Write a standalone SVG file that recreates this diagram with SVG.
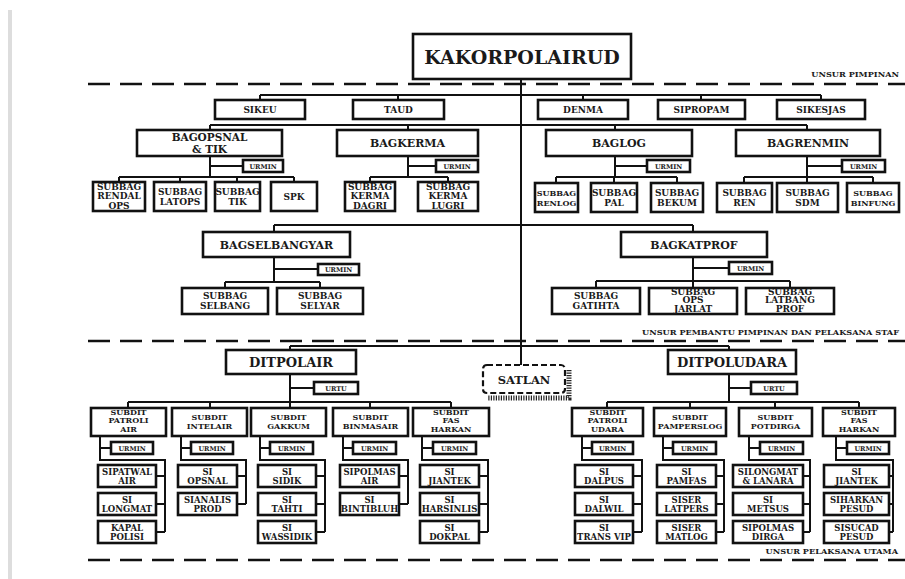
<svg xmlns="http://www.w3.org/2000/svg" width="905" height="579" viewBox="0 0 905 579">
<style>
.bx{fill:#fff;stroke:#111;stroke-width:2.6}
.ln{fill:none;stroke:#111;stroke-width:2}
.dl{fill:none;stroke:#111;stroke-width:2.6;stroke-dasharray:22 10}
text{font-family:"DejaVu Serif","Liberation Serif",serif;font-weight:bold;fill:#1a1a1a;text-anchor:middle}
.t0{font-size:19px}
.t1{font-size:9px}
.t2{font-size:11px}
.t2s{font-size:10.5px}
.t3{font-size:9px}
.t3s{font-size:8px}
.tu{font-size:6.5px}
.t4{font-size:13px}
.t5{font-size:8px}
.t6{font-size:8.5px}
.tl{font-size:8.2px;text-anchor:end}
</style>
<rect x="0" y="0" width="905" height="579" fill="#fff"/>
<rect x="8" y="10" width="4" height="569" fill="#ddd"/>

<g id="separators">
<path class="dl" d="M88 84H905"/>
<path class="dl" d="M88 341H905"/>
<path class="dl" d="M88 560H905"/>
<text class="tl" x="899" y="77">UNSUR PIMPINAN</text>
<text class="tl" x="899" y="335">UNSUR PEMBANTU PIMPINAN DAN PELAKSANA STAF</text>
<text class="tl" x="898" y="554">UNSUR PELAKSANA UTAMA</text>
</g>

<g id="connectors">
<path class="ln" d="M521 79V365"/>
<path class="ln" d="M260 95H821M260 95V100M398 95V100M583 95V100M701 95V100M821 95V100"/>
<path class="ln" d="M210 125H807M210 125V130M408 125V130M615 125V130M807 125V130"/>
<path class="ln" d="M210 156V177M210 166H243M119 177H294M119 177V182M180 177V182M237 177V182M294 177V182"/>
<path class="ln" d="M408 156V177M408 166H436M370 177H448M370 177V182M448 177V182"/>
<path class="ln" d="M615 156V177M615 166H647M556 177H677M556 177V182M614 177V182M677 177V182"/>
<path class="ln" d="M807 156V177M807 166H842M744 177H873M744 177V182M807 177V182M873 177V182"/>
<path class="ln" d="M274 225H693M274 225V232M693 225V232"/>
<path class="ln" d="M274 257V282M274 269H318M225 282H320M225 282V288M320 282V288"/>
<path class="ln" d="M693 257V281M693 268H729M596 281H790M596 281V288M693 281V288M790 281V288"/>
<path class="ln" d="M290 346H729M290 346V350M729 346V350"/>
<path class="ln" d="M290 374V402M290 388H314M128 402H451M128 402V408M210 402V408M290 402V408M370 402V408M451 402V408"/>
<path class="ln" d="M729 374V402M729 388H751M607 402H859M607 402V408M690 402V408M775 402V408M859 402V408"/>
<path class="ln" d="M100 436V460H165V532M100 448H111M156 476H165M156 504H165M156 532H165"/>
<path class="ln" d="M181 436V460H246V504M181 448H191M237 476H246M237 504H246"/>
<path class="ln" d="M260 436V460H325V532M260 448H270M316 476H325M316 504H325M316 532H325"/>
<path class="ln" d="M343 436V460H408V504M343 448H353M399 476H408M399 504H408"/>
<path class="ln" d="M422 436V460H488V532M422 448H433M479 476H488M479 504H488M479 532H488"/>
<path class="ln" d="M582 436V460H642V532M582 448H592M633 476H642M633 504H642M633 532H642"/>
<path class="ln" d="M663 436V460H724V532M663 448H673M716 476H724M716 504H724M716 532H724"/>
<path class="ln" d="M749 436V460H810V532M749 448H760M803 476H810M803 504H810M803 532H810"/>
<path class="ln" d="M836 436V460H893V532M836 448H847M889 476H893M889 504H893M889 532H893"/>
</g>

<g id="kakorpolairud"><rect class="bx" x="413" y="34" width="218" height="45" stroke-width="3"/><text class="t0" x="522" y="64">KAKORPOLAIRUD</text></g>

<g id="sikeu"><rect class="bx" x="215" y="100" width="90" height="19"/><text class="t1" x="260" y="113">SIKEU</text></g>
<g id="taud"><rect class="bx" x="353" y="100" width="91" height="19"/><text class="t1" x="398.5" y="113">TAUD</text></g>
<g id="denma"><rect class="bx" x="538" y="100" width="90" height="19"/><text class="t1" x="583" y="113">DENMA</text></g>
<g id="sipropam"><rect class="bx" x="658" y="100" width="87" height="19"/><text class="t1" x="701.5" y="113">SIPROPAM</text></g>
<g id="sikesjas"><rect class="bx" x="777" y="100" width="88" height="19"/><text class="t1" x="821" y="113">SIKESJAS</text></g>

<g id="bagopsnal"><rect class="bx" x="137" y="130" width="145" height="26"/><text class="t2s" x="209.5" y="140.5">BAGOPSNAL</text><text class="t2s" x="209.5" y="152.5">&amp; TIK</text></g>
<g id="bagkerma"><rect class="bx" x="337" y="130" width="141" height="26"/><text class="t2" x="407.5" y="147">BAGKERMA</text></g>
<g id="baglog"><rect class="bx" x="546" y="130" width="146" height="26"/><text class="t2" x="619" y="147">BAGLOG</text></g>
<g id="bagrenmin"><rect class="bx" x="736" y="130" width="144" height="26"/><text class="t2" x="808" y="147">BAGRENMIN</text></g>

<g id="urmin-bagopsnal"><rect class="bx" x="243" y="160" width="40" height="12"/><text class="tu" x="263" y="168.5">URMIN</text></g>
<g id="urmin-bagkerma"><rect class="bx" x="436" y="160" width="42" height="12"/><text class="tu" x="457" y="168.5">URMIN</text></g>
<g id="urmin-baglog"><rect class="bx" x="647" y="160" width="43" height="12"/><text class="tu" x="668.5" y="168.5">URMIN</text></g>
<g id="urmin-bagrenmin"><rect class="bx" x="842" y="160" width="43" height="12"/><text class="tu" x="863.5" y="168.5">URMIN</text></g>

<g id="subbag-rendal-ops"><rect class="bx" x="93" y="182" width="52" height="29"/><text class="t3" x="119" y="189.5">SUBBAG</text><text class="t3" x="119" y="199">RENDAL</text><text class="t3" x="119" y="208.5">OPS</text></g>
<g id="subbag-latops"><rect class="bx" x="154" y="182" width="52" height="29"/><text class="t3" x="180" y="194.5">SUBBAG</text><text class="t3" x="180" y="204.5">LATOPS</text></g>
<g id="subbag-tik"><rect class="bx" x="215" y="182" width="45" height="29"/><text class="t3" x="237.5" y="194.5">SUBBAG</text><text class="t3" x="237.5" y="204.5">TIK</text></g>
<g id="spk"><rect class="bx" x="271" y="182" width="46" height="29"/><text class="t3" x="294" y="200">SPK</text></g>
<g id="subbag-kerma-dagri"><rect class="bx" x="345" y="182" width="50" height="29"/><text class="t3" x="370" y="189.5">SUBBAG</text><text class="t3" x="370" y="199">KERMA</text><text class="t3" x="370" y="208.5">DAGRI</text></g>
<g id="subbag-kerma-lugri"><rect class="bx" x="418" y="182" width="60" height="29"/><text class="t3" x="448" y="189.5">SUBBAG</text><text class="t3" x="448" y="199">KERMA</text><text class="t3" x="448" y="208.5">LUGRI</text></g>
<g id="subbag-renlog"><rect class="bx" x="535" y="183" width="43" height="29"/><text class="t3s" x="556.5" y="195.5">SUBBAG</text><text class="t3s" x="556.5" y="205.5">RENLOG</text></g>
<g id="subbag-pal"><rect class="bx" x="591" y="183" width="46" height="29"/><text class="t3" x="614" y="195.5">SUBBAG</text><text class="t3" x="614" y="205.5">PAL</text></g>
<g id="subbag-bekum"><rect class="bx" x="651" y="183" width="52" height="29"/><text class="t3" x="677" y="195.5">SUBBAG</text><text class="t3" x="677" y="205.5">BEKUM</text></g>
<g id="subbag-ren"><rect class="bx" x="717" y="183" width="55" height="29"/><text class="t3" x="744.5" y="195.5">SUBBAG</text><text class="t3" x="744.5" y="205.5">REN</text></g>
<g id="subbag-sdm"><rect class="bx" x="777" y="183" width="61" height="29"/><text class="t3" x="807.5" y="195.5">SUBBAG</text><text class="t3" x="807.5" y="205.5">SDM</text></g>
<g id="subbag-binfung"><rect class="bx" x="847" y="183" width="52" height="29"/><text class="t3s" x="873" y="195.5">SUBBAG</text><text class="t3s" x="873" y="205.5">BINFUNG</text></g>

<g id="bagselbangyar"><rect class="bx" x="203" y="232" width="147" height="25"/><text class="t2" x="276.5" y="248.5">BAGSELBANGYAR</text></g>
<g id="bagkatprof"><rect class="bx" x="621" y="232" width="146" height="25"/><text class="t2" x="694" y="248.5">BAGKATPROF</text></g>
<g id="urmin-bagselbangyar"><rect class="bx" x="318" y="264" width="41" height="11"/><text class="tu" x="338.5" y="272">URMIN</text></g>
<g id="urmin-bagkatprof"><rect class="bx" x="729" y="262" width="43" height="12"/><text class="tu" x="750.5" y="270.5">URMIN</text></g>
<g id="subbag-selbang"><rect class="bx" x="182" y="288" width="86" height="26"/><text class="t3" x="225" y="298.5">SUBBAG</text><text class="t3" x="225" y="308.5">SELBANG</text></g>
<g id="subbag-selyar"><rect class="bx" x="277" y="288" width="86" height="26"/><text class="t3" x="320" y="298.5">SUBBAG</text><text class="t3" x="320" y="308.5">SELYAR</text></g>
<g id="subbag-gatihta"><rect class="bx" x="552" y="288" width="88" height="26"/><text class="t3" x="596" y="298.5">SUBBAG</text><text class="t3" x="596" y="308.5">GATIHTA</text></g>
<g id="subbag-ops-jarlat"><rect class="bx" x="649" y="288" width="88" height="26"/><text class="t3" x="693" y="294.5">SUBBAG</text><text class="t3" x="693" y="303">OPS</text><text class="t3" x="693" y="311.5">JARLAT</text></g>
<g id="subbag-latbang-prof"><rect class="bx" x="746" y="288" width="88" height="26"/><text class="t3" x="790" y="294.5">SUBBAG</text><text class="t3" x="790" y="303">LATBANG</text><text class="t3" x="790" y="311.5">PROF</text></g>

<g id="ditpolair"><rect class="bx" x="226" y="350" width="130" height="24"/><text class="t4" x="291" y="367">DITPOLAIR</text></g>
<g id="ditpoludara"><rect class="bx" x="668" y="350" width="128" height="24"/><text class="t4" x="732" y="367">DITPOLUDARA</text></g>
<g id="satlan">
<path d="M569 370V398H488" fill="none" stroke="#222" stroke-width="5" stroke-dasharray="1.2 1.3"/>
<rect x="483" y="365" width="82" height="28" rx="4" fill="#fff" stroke="#111" stroke-width="2.2" stroke-dasharray="6 3"/>
<text class="t2" x="524" y="383.5" style="font-size:11.5px">SATLAN</text></g>
<g id="urtu-ditpolair"><rect class="bx" x="314" y="382" width="44" height="12"/><text class="tu" x="336" y="390.5">URTU</text></g>
<g id="urtu-ditpoludara"><rect class="bx" x="751" y="382" width="46" height="12"/><text class="tu" x="774" y="390.5">URTU</text></g>

<g id="subdit-patroli-air"><rect class="bx" x="91" y="408" width="75" height="28"/><text class="t5" x="128.5" y="414.5">SUBDIT</text><text class="t5" x="128.5" y="423">PATROLI</text><text class="t5" x="128.5" y="431.5">AIR</text></g>
<g id="subdit-intelair"><rect class="bx" x="172" y="408" width="75" height="28"/><text class="t5" x="209.5" y="420">SUBDIT</text><text class="t5" x="209.5" y="429">INTELAIR</text></g>
<g id="subdit-gakkum"><rect class="bx" x="251" y="408" width="75" height="28"/><text class="t5" x="288.5" y="420">SUBDIT</text><text class="t5" x="288.5" y="429">GAKKUM</text></g>
<g id="subdit-binmasair"><rect class="bx" x="333" y="408" width="75" height="28"/><text class="t5" x="370.5" y="420">SUBDIT</text><text class="t5" x="370.5" y="429">BINMASAIR</text></g>
<g id="subdit-fas-harkan-air"><rect class="bx" x="413" y="408" width="76" height="28"/><text class="t5" x="451" y="414.5">SUBDIT</text><text class="t5" x="451" y="423">FAS</text><text class="t5" x="451" y="431.5">HARKAN</text></g>
<g id="subdit-patroli-udara"><rect class="bx" x="572" y="408" width="71" height="28"/><text class="t5" x="607.5" y="414.5">SUBDIT</text><text class="t5" x="607.5" y="423">PATROLI</text><text class="t5" x="607.5" y="431.5">UDARA</text></g>
<g id="subdit-pamperslog"><rect class="bx" x="654" y="408" width="72" height="28"/><text class="t5" x="690" y="420">SUBDIT</text><text class="t5" x="690" y="429">PAMPERSLOG</text></g>
<g id="subdit-potdirga"><rect class="bx" x="739" y="408" width="73" height="28"/><text class="t5" x="775.5" y="420">SUBDIT</text><text class="t5" x="775.5" y="429">POTDIRGA</text></g>
<g id="subdit-fas-harkan-udara"><rect class="bx" x="823" y="408" width="72" height="28"/><text class="t5" x="859" y="414.5">SUBDIT</text><text class="t5" x="859" y="423">FAS</text><text class="t5" x="859" y="431.5">HARKAN</text></g>

<g id="urmin-patroli-air"><rect class="bx" x="111" y="442" width="42" height="12"/><text class="tu" x="132" y="450.5">URMIN</text></g>
<g id="urmin-intelair"><rect class="bx" x="191" y="442" width="42" height="12"/><text class="tu" x="212" y="450.5">URMIN</text></g>
<g id="urmin-gakkum"><rect class="bx" x="270" y="442" width="43" height="12"/><text class="tu" x="291.5" y="450.5">URMIN</text></g>
<g id="urmin-binmasair"><rect class="bx" x="353" y="442" width="43" height="12"/><text class="tu" x="374.5" y="450.5">URMIN</text></g>
<g id="urmin-fas-harkan-air"><rect class="bx" x="433" y="442" width="43" height="12"/><text class="tu" x="454.5" y="450.5">URMIN</text></g>
<g id="urmin-patroli-udara"><rect class="bx" x="592" y="442" width="41" height="12"/><text class="tu" x="612.5" y="450.5">URMIN</text></g>
<g id="urmin-pamperslog"><rect class="bx" x="673" y="442" width="43" height="12"/><text class="tu" x="694.5" y="450.5">URMIN</text></g>
<g id="urmin-potdirga"><rect class="bx" x="760" y="442" width="43" height="12"/><text class="tu" x="781.5" y="450.5">URMIN</text></g>
<g id="urmin-fas-harkan-udara"><rect class="bx" x="847" y="442" width="42" height="12"/><text class="tu" x="868" y="450.5">URMIN</text></g>

<g id="sipatwal-air"><rect class="bx" x="98" y="465" width="58" height="22"/><text class="t6" x="127" y="474.5">SIPATWAL</text><text class="t6" x="127" y="484">AIR</text></g>
<g id="si-longmat"><rect class="bx" x="98" y="493" width="58" height="22"/><text class="t6" x="127" y="502.5">SI</text><text class="t6" x="127" y="512">LONGMAT</text></g>
<g id="kapal-polisi"><rect class="bx" x="98" y="521" width="58" height="22"/><text class="t6" x="127" y="530.5">KAPAL</text><text class="t6" x="127" y="540">POLISI</text></g>
<g id="si-opsnal"><rect class="bx" x="178" y="465" width="59" height="22"/><text class="t6" x="207.5" y="474.5">SI</text><text class="t6" x="207.5" y="484">OPSNAL</text></g>
<g id="sianalis-prod"><rect class="bx" x="178" y="493" width="59" height="22"/><text class="t6" x="207.5" y="502.5">SIANALIS</text><text class="t6" x="207.5" y="512">PROD</text></g>
<g id="si-sidik"><rect class="bx" x="258" y="465" width="58" height="22"/><text class="t6" x="287" y="474.5">SI</text><text class="t6" x="287" y="484">SIDIK</text></g>
<g id="si-tahti"><rect class="bx" x="258" y="493" width="58" height="22"/><text class="t6" x="287" y="502.5">SI</text><text class="t6" x="287" y="512">TAHTI</text></g>
<g id="si-wassidik"><rect class="bx" x="258" y="521" width="58" height="22"/><text class="t6" x="287" y="530.5">SI</text><text class="t6" x="287" y="540">WASSIDIK</text></g>
<g id="sipolmas-air"><rect class="bx" x="340" y="465" width="59" height="22"/><text class="t6" x="369.5" y="474.5">SIPOLMAS</text><text class="t6" x="369.5" y="484">AIR</text></g>
<g id="si-bintibluh"><rect class="bx" x="340" y="493" width="59" height="22"/><text class="t6" x="369.5" y="502.5">SI</text><text class="t6" x="369.5" y="512">BINTIBLUH</text></g>
<g id="si-jiantek-air"><rect class="bx" x="420" y="465" width="59" height="22"/><text class="t6" x="449.5" y="474.5">SI</text><text class="t6" x="449.5" y="484">JIANTEK</text></g>
<g id="si-harsinlis"><rect class="bx" x="420" y="493" width="59" height="22"/><text class="t6" x="449.5" y="502.5">SI</text><text class="t6" x="449.5" y="512">HARSINLIS</text></g>
<g id="si-dokpal"><rect class="bx" x="420" y="521" width="59" height="22"/><text class="t6" x="449.5" y="530.5">SI</text><text class="t6" x="449.5" y="540">DOKPAL</text></g>
<g id="si-dalpus"><rect class="bx" x="575" y="465" width="58" height="22"/><text class="t6" x="604" y="474.5">SI</text><text class="t6" x="604" y="484">DALPUS</text></g>
<g id="si-dalwil"><rect class="bx" x="575" y="493" width="58" height="22"/><text class="t6" x="604" y="502.5">SI</text><text class="t6" x="604" y="512">DALWIL</text></g>
<g id="si-trans-vip"><rect class="bx" x="575" y="521" width="58" height="22"/><text class="t6" x="604" y="530.5">SI</text><text class="t6" x="604" y="540">TRANS VIP</text></g>
<g id="si-pamfas"><rect class="bx" x="657" y="465" width="59" height="22"/><text class="t6" x="686.5" y="474.5">SI</text><text class="t6" x="686.5" y="484">PAMFAS</text></g>
<g id="siser-latpers"><rect class="bx" x="657" y="493" width="59" height="22"/><text class="t6" x="686.5" y="502.5">SISER</text><text class="t6" x="686.5" y="512">LATPERS</text></g>
<g id="siser-matlog"><rect class="bx" x="657" y="521" width="59" height="22"/><text class="t6" x="686.5" y="530.5">SISER</text><text class="t6" x="686.5" y="540">MATLOG</text></g>
<g id="silongmat-lanara"><rect class="bx" x="733" y="465" width="70" height="22"/><text class="t6" x="768" y="474.5">SILONGMAT</text><text class="t6" x="768" y="484">&amp; LANARA</text></g>
<g id="si-metsus"><rect class="bx" x="733" y="493" width="70" height="22"/><text class="t6" x="768" y="502.5">SI</text><text class="t6" x="768" y="512">METSUS</text></g>
<g id="sipolmas-dirga"><rect class="bx" x="733" y="521" width="70" height="22"/><text class="t6" x="768" y="530.5">SIPOLMAS</text><text class="t6" x="768" y="540">DIRGA</text></g>
<g id="si-jiantek-udara"><rect class="bx" x="824" y="465" width="65" height="22"/><text class="t6" x="856.5" y="474.5">SI</text><text class="t6" x="856.5" y="484">JIANTEK</text></g>
<g id="siharkan-pesud"><rect class="bx" x="824" y="493" width="65" height="22"/><text class="t6" x="856.5" y="502.5">SIHARKAN</text><text class="t6" x="856.5" y="512">PESUD</text></g>
<g id="sisucad-pesud"><rect class="bx" x="824" y="521" width="65" height="22"/><text class="t6" x="856.5" y="530.5">SISUCAD</text><text class="t6" x="856.5" y="540">PESUD</text></g>
</svg>
